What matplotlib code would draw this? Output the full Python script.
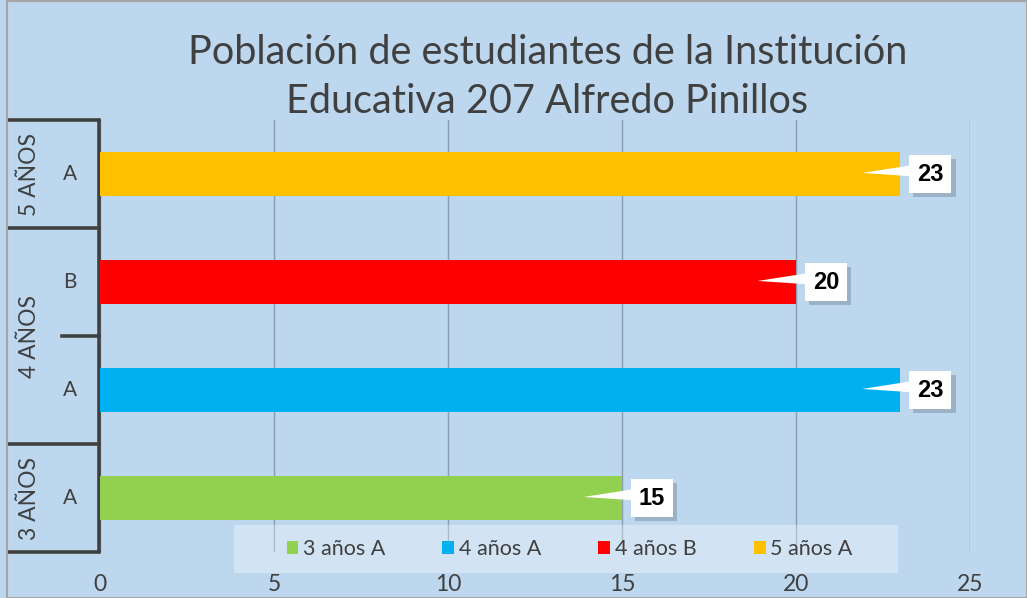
import numpy as np
import matplotlib
matplotlib.use('Agg')
import matplotlib.pyplot as plt
import matplotlib.transforms as mtransforms
import matplotlib.patheffects as pe
from matplotlib.patches import Polygon, Rectangle

# ---------------- datos ----------------
grados = ['3 AÑOS', '4 AÑOS', '5 AÑOS']
secciones = ['A', 'A', 'B', 'A']
series = ['3 años A', '4 años A', '4 años B', '5 años A']
valores = [15, 23, 20, 23]
colores = ['#92D050', '#00B0F0', '#FF0000', '#FFC000']

fondo = '#BDD7EE'
gris = '#404040'
plt.rcParams['font.family'] = ['Lato', 'DejaVu Sans']

fig = plt.figure(figsize=(10.27, 5.98), dpi=100, facecolor=fondo)
ax = fig.add_axes([0.0974, 0.0769, 0.8471, 0.7224])
ax.set_facecolor(fondo)

pos = np.arange(len(valores))
for i in range(len(valores)):
    ax.barh(pos[i], valores[i], height=0.41, color=colores[i], label=series[i], zorder=3)

ax.set_xlim(0, 25)
ax.set_ylim(-0.5, 3.5)
ax.set_xticks([0, 5, 10, 15, 20, 25])
ax.tick_params(axis='x', length=0, pad=16, labelsize=16.5, labelcolor=gris)
ax.set_yticks([])
ax.grid(axis='x', color='#8C9CB0', linewidth=1, zorder=0)
for s in ax.spines.values():
    s.set_visible(False)

# ---------------- eje de categorias jerarquico ----------------
tr = mtransforms.blended_transform_factory(ax.transAxes, ax.transData)
x_ext = -0.1057
x_int = -0.0437
lw = 2.6
ax.plot([-0.001, -0.001], [-0.5, 3.5], color=gris, lw=lw, transform=tr, clip_on=False, solid_capstyle='butt')
for yb in [-0.5, 0.5, 2.5, 3.5]:
    ax.plot([x_ext, -0.001], [yb, yb], color=gris, lw=lw, transform=tr, clip_on=False)
ax.plot([x_int, -0.001], [1.5, 1.5], color=gris, lw=lw, transform=tr, clip_on=False)

for i in range(len(secciones)):
    ax.text(-0.0345, pos[i], secciones[i], transform=tr, ha='center', va='center',
            fontsize=15, color=gris)
centros = [0, 1.5, 3]
for g, yc in zip(grados, centros):
    ax.text(-0.0805, yc, g, transform=tr, ha='center', va='center', rotation=90,
            fontsize=16.5, color=gris)

# ---------------- etiquetas de datos ----------------
for i in range(len(valores)):
    v = valores[i]
    tri = Polygon([[v - 1.1, pos[i] + 0.01], [v + 0.3, pos[i] + 0.08], [v + 0.3, pos[i] - 0.02]],
                  closed=True, facecolor='white', edgecolor='none', zorder=4)
    ax.add_patch(tri)
    t = ax.text(v + 0.86, pos[i], str(v), ha='center', va='center', fontsize=17,
                fontweight='bold', family='Liberation Sans', color='black', zorder=5,
                bbox=dict(boxstyle='square,pad=0.33', facecolor='white', edgecolor='none'))
    t.get_bbox_patch().set_path_effects([pe.withSimplePatchShadow(offset=(3, -3), shadow_rgbFace='#5a6a80', alpha=0.35)])

# ---------------- leyenda ----------------
ax.add_patch(Rectangle((0.154, -0.0486), 0.763, 0.111, transform=ax.transAxes, facecolor='white',
                       alpha=0.32, edgecolor='none', clip_on=False, zorder=6))
leg = ax.legend(loc='center', bbox_to_anchor=(0.5395, 0.007), ncol=4, frameon=False,
                fontsize=15.5, handlelength=0.55, handleheight=0.55, handletextpad=0.2,
                columnspacing=2.67)
leg.set_zorder(7)
for txt in leg.get_texts():
    txt.set_color(gris)

# ---------------- titulo ----------------
fig.text(0.533, 0.871, 'Población de estudiantes de la Institución\nEducativa 207 Alfredo Pinillos',
         ha='center', va='center', fontsize=28.5, color=gris, linespacing=1.38)

# borde
fig.patches.append(Rectangle((0.007, 0.0), 0.993, 0.998, transform=fig.transFigure, fill=False,
                             edgecolor='#A6A6A6', linewidth=1.5))

fig.savefig('out.png', dpi=100, facecolor=fondo)
